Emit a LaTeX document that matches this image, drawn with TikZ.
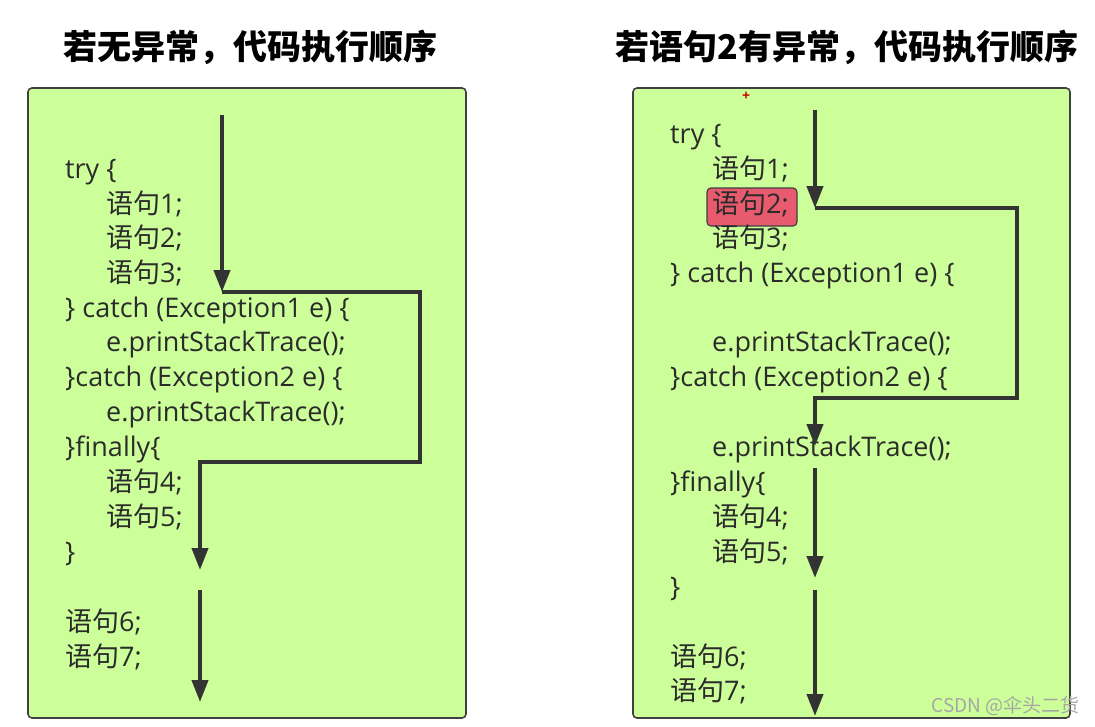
\documentclass[tikz,border=0pt]{standalone}
\usepackage{fontspec}
\setmainfont{Open Sans}
\newfontfamily\cjk{Noto Sans CJK SC}
\usetikzlibrary{arrows.meta}
\definecolor{boxgreen}{HTML}{CCFF99}
\definecolor{boxline}{HTML}{404040}
\definecolor{flow}{HTML}{333333}
\definecolor{codetext}{HTML}{2B2B2B}
\definecolor{hl}{HTML}{E85A6E}
\newcommand{\yj}[1]{{\cjk\fontsize{27}{30}\selectfont 语句}#1}
\begin{document}
\begin{tikzpicture}[x=1pt,y=-1pt,
  panel/.style={draw=boxline,fill=boxgreen,line width=1.6pt,rounded corners=4pt},
  code/.style={anchor=west,inner sep=0pt,text=codetext,font=\fontsize{27}{30}\selectfont,text height=19pt,text depth=6pt},
  ttl/.style={anchor=center,inner sep=0pt,font=\cjk\fontsize{34}{40}\selectfont\bfseries,text=black},
  flowline/.style={draw=flow,line width=4pt},
  flowarrow/.style={draw=flow,line width=4pt,-{Triangle[length=22pt,width=16pt]}},
  hlbox/.style={draw=boxline,fill=hl,line width=1.2pt,rounded corners=4pt}]
\useasboundingbox (0,0) rectangle (1095,726);
% titles
\node[ttl] (t1) at (250,47) {若无异常，代码执行顺序};
\node[ttl] (t2) at (847,47) {若语句2有异常，代码执行顺序};
% panels
\draw[panel] (28,88) rectangle (466,718);
\draw[panel] (633,88) rectangle (1070,718);
% ---- left code
\node[code] (l1) at (65,172) {try \{};
\node[code] (l2) at (106,207) {\yj{1;}};
\node[code] (l3) at (106,241) {\yj{2;}};
\node[code] (l4) at (106,276) {\yj{3;}};
\node[code] (l5) at (65,311) {\} catch (Exception1 e) \{};
\node[code] (l6) at (106,345) {e.printStackTrace();};
\node[code] (l7) at (65,380) {\}catch (Exception2 e) \{};
\node[code] (l8) at (106,415) {e.printStackTrace();};
\node[code] (l9) at (65,450) {\}finally\{};
\node[code] (l10) at (106,485) {\yj{4;}};
\node[code] (l11) at (106,520) {\yj{5;}};
\node[code] (l12) at (65,555) {\}};
\node[code] (l13) at (65,625) {\yj{6;}};
\node[code] (l14) at (65,660) {\yj{7;}};
% left flow
\coordinate (a0) at (222,115);
\coordinate (a1) at (222,292);
\coordinate (a2) at (420,292);
\coordinate (a3) at (420,462);
\coordinate (a4) at (200,462);
\coordinate (a5) at (200,570);
\coordinate (a6) at (200,590);
\coordinate (a7) at (200,702);
\draw[flowarrow] (a0) -- (a1);
\draw[flowline,line join=miter] (a1) -- (a2) -- (a3) -- (a4) -- ([yshift=-2pt]a4);
\draw[flowarrow] ([yshift=2pt]a4) -- (a5);
\draw[flowarrow] (a6) -- (a7);
% ---- right code
\draw[hlbox] (707,188) rectangle (797,226);
\node[code] (r1) at (670,137) {try \{};
\node[code] (r2) at (712,172) {\yj{1;}};
\node[code] (r3) at (712,207) {\yj{2;}};
\node[code] (r4) at (712,241) {\yj{3;}};
\node[code] (r5) at (670,276) {\} catch (Exception1 e) \{};
\node[code] (r6) at (712,345) {e.printStackTrace();};
\node[code] (r7) at (670,380) {\}catch (Exception2 e) \{};
\node[code] (r8) at (712,450) {e.printStackTrace();};
\node[code] (r9) at (670,485) {\}finally\{};
\node[code] (r10) at (712,520) {\yj{4;}};
\node[code] (r11) at (712,555) {\yj{5;}};
\node[code] (r12) at (670,590) {\}};
\node[code] (r13) at (670,660) {\yj{6;}};
\node[code] (r14) at (670,694) {\yj{7;}};
% right flow
\coordinate (b0) at (815,110);
\coordinate (b1) at (815,208);
\coordinate (b2) at (1017,208);
\coordinate (b3) at (1017,398);
\coordinate (b4) at (815,398);
\coordinate (b5) at (815,446);
\coordinate (b6) at (815,468);
\coordinate (b7) at (815,578);
\coordinate (b8) at (815,590);
\coordinate (b9) at (815,716);
\draw[flowarrow] (b0) -- (b1);
\draw[flowline,line join=miter] (b1) -- (b2) -- (b3) -- (b4) -- ([yshift=2pt]b4);
\draw[flowarrow] ([yshift=-2pt]b4) -- (b5);
\draw[flowarrow] (b6) -- (b7);
\draw[flowarrow] (b8) -- (b9);
% marks
\node[inner sep=0pt,text=red!80!black,font=\fontsize{14}{14}\selectfont\bfseries] (cur) at (746,96) {+};
\node[inner sep=0pt,text=gray!70,font=\cjk\fontsize{19}{19}\selectfont,anchor=east] (wm) at (1080,706) {CSDN @伞头二货};
\end{tikzpicture}
\end{document}
